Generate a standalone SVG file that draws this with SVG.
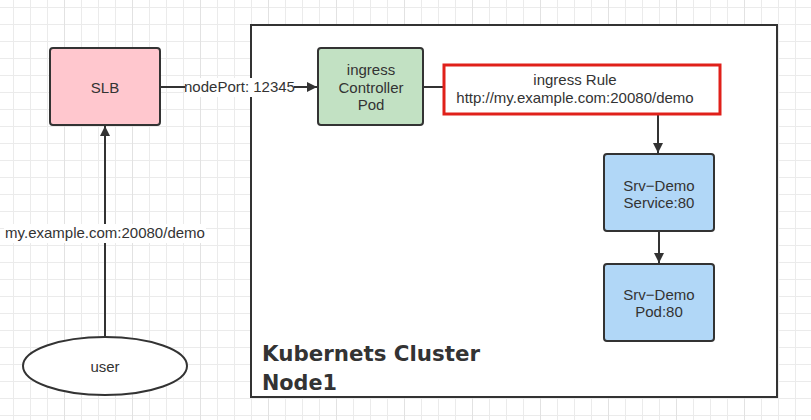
<svg xmlns="http://www.w3.org/2000/svg" width="811" height="420" viewBox="0 0 811 420">
<defs>
<pattern id="grid" patternUnits="userSpaceOnUse" x="13" y="7" width="68" height="68">
<path d="M17.5 0V68M34.5 0V68M0 17.5H68M0 34.5H68M0 51.5H68" stroke="#ebebeb" stroke-width="1" fill="none"/>
<path d="M0.5 0V68M0 0.5H68" stroke="#ebebeb" stroke-width="1" fill="none"/>
<path d="M51.5 0V68" stroke="#e2e2e2" stroke-width="1" fill="none"/>
</pattern>
<marker id="arr" viewBox="0 0 10 10" refX="10" refY="5" markerWidth="10" markerHeight="10" markerUnits="userSpaceOnUse" orient="auto">
<path d="M0 0L10 5L0 10Z" fill="#333"/>
</marker>
</defs>
<style>
.box{stroke:#333;stroke-width:2}
.t{font-family:"Liberation Sans",Arial,sans-serif;font-size:15px;fill:#333;text-anchor:middle}
.line{stroke:#333;stroke-width:2;fill:none}
.k{font-family:"Comic Sans MS","DejaVu Sans",sans-serif;font-weight:bold;font-size:22px;fill:#333}
</style>
<rect width="811" height="420" fill="#fff"/>
<rect width="811" height="420" fill="url(#grid)"/>

<g id="cluster">
<rect x="251" y="25" width="526" height="372" fill="#fff" stroke="#333" stroke-width="2"/>
<text class="k" x="262" y="361" textLength="218" lengthAdjust="spacingAndGlyphs">Kubernets Cluster</text>
<text class="k" x="262" y="390" textLength="75" lengthAdjust="spacingAndGlyphs">Node1</text>
</g>

<g id="connectors">
<line class="line" x1="105" y1="337" x2="105" y2="126" marker-end="url(#arr)"/>
<rect x="4" y="224" width="202" height="19" fill="#fff"/>
<text class="t" x="105" y="238">my.example.com:20080/demo</text>
<line class="line" x1="161" y1="87" x2="317" y2="87" marker-end="url(#arr)"/>
<rect x="185" y="78" width="109" height="19" fill="#fff"/>
<text class="t" x="239.5" y="92">nodePort: 12345</text>
<line class="line" x1="423" y1="87" x2="452" y2="87"/>
<line class="line" x1="658" y1="107" x2="658" y2="153" marker-end="url(#arr)"/>
<line class="line" x1="659" y1="231" x2="659" y2="263" marker-end="url(#arr)"/>
</g>

<g id="slb">
<rect class="box" x="50" y="48" width="110" height="77" rx="3" fill="#ffc7ce"/>
<text class="t" x="105" y="93">SLB</text>
</g>

<g id="ingress-controller">
<rect class="box" x="318" y="48" width="105" height="77" rx="3" fill="#c2e1c3"/>
<text class="t" x="371" y="75">ingress</text>
<text class="t" x="371" y="93">Controller</text>
<text class="t" x="371" y="110">Pod</text>
</g>

<g id="ingress-rule">
<rect x="444" y="65" width="276" height="49" fill="#fff" stroke="#e0201a" stroke-width="3"/>
<text class="t" x="575" y="85">ingress Rule</text>
<text class="t" x="575" y="103">http://my.example.com:20080/demo</text>
</g>

<g id="service">
<rect class="box" x="604" y="154" width="110" height="77" rx="3" fill="#b1d7f7"/>
<text class="t" x="659" y="191">Srv−Demo</text>
<text class="t" x="659" y="208">Service:80</text>
</g>

<g id="pod">
<rect class="box" x="604" y="264" width="110" height="77" rx="3" fill="#b1d7f7"/>
<text class="t" x="659" y="300">Srv−Demo</text>
<text class="t" x="659" y="317">Pod:80</text>
</g>

<g id="user">
<ellipse cx="105" cy="366" rx="82" ry="29" fill="#fff" stroke="#333" stroke-width="2"/>
<text class="t" x="105" y="372">user</text>
</g>
</svg>
